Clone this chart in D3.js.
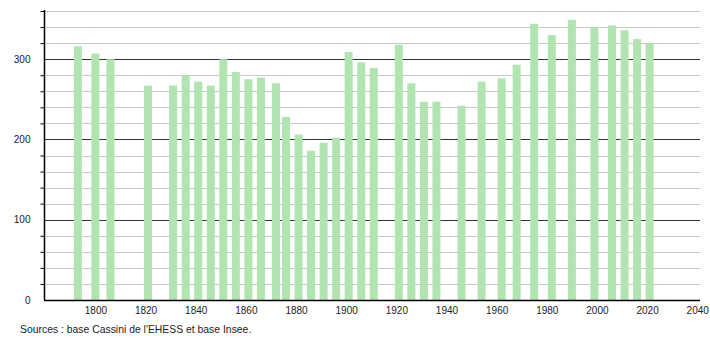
<!DOCTYPE html>
<html>
<head>
<meta charset="utf-8">
<script src="https://cdn.jsdelivr.net/npm/d3@7"></script>
<style>
  body { margin: 0; background: #fff; }
  svg text { font-family: "Liberation Sans", Arial, sans-serif; }
</style>
</head>
<body>
<div id="chart"></div>
<script>
// census years and population
const years = [1793, 1800, 1806, 1821, 1831, 1836, 1841, 1846, 1851, 1856, 1861, 1866,
  1872, 1876, 1881, 1886, 1891, 1896, 1901, 1906, 1911, 1921, 1926, 1931, 1936, 1946,
  1954, 1962, 1968, 1975, 1982, 1990, 1999, 2006, 2011, 2016, 2021];
const population = [316, 307, 300, 267, 267, 280, 272, 267, 300, 284, 275, 277,
  270, 228, 206, 186, 196, 202, 309, 296, 289, 318, 270, 247, 247, 242,
  272, 276, 293, 344, 330, 349, 340, 342, 336, 325, 320];
const xTicks = [1800, 1820, 1840, 1860, 1880, 1900, 1920, 1940, 1960, 1980, 2000, 2020, 2040];
const yTicks = [0, 100, 200, 300];
const source = "Sources : base Cassini de l'EHESS et base Insee.";

const width = 710, height = 340;
const plotLeft = 44, plotRight = 700, plotTop = 11, plotBottom = 300;

const data = years.map((y, i) => ({ year: y, value: population[i] }));

const svg = d3.select("#chart")
    .append("svg")
    .attr("width", width)
    .attr("height", height);

const x = d3.scaleLinear()
    .domain([1779.5, 2041.1])
    .range([plotLeft, plotRight]);

const y = d3.scaleLinear()
    .domain([0, 360])
    .range([plotBottom, plotTop]);

// light grid every 20
svg.append("g")
    .selectAll("line")
    .data(d3.range(20, 361, 20).filter(v => v % 100 !== 0))
    .enter()
    .append("line")
    .attr("x1", plotLeft).attr("x2", plotRight)
    .attr("y1", d => Math.round(y(d)) + 0.5)
    .attr("y2", d => Math.round(y(d)) + 0.5)
    .attr("stroke", "#c8c8c8")
    .attr("stroke-width", 1);

// dark lines at 100, 200, 300
svg.append("g")
    .selectAll("line")
    .data(yTicks.filter(v => v > 0))
    .enter()
    .append("line")
    .attr("x1", plotLeft).attr("x2", plotRight)
    .attr("y1", d => Math.round(y(d)) + 0.5)
    .attr("y2", d => Math.round(y(d)) + 0.5)
    .attr("stroke", "#333")
    .attr("stroke-width", 1);

// bars
const barW = 8;
svg.append("g")
    .selectAll("rect")
    .data(data)
    .enter()
    .append("rect")
    .attr("x", d => x(d.year) - barW / 2)
    .attr("y", d => y(d.value))
    .attr("width", barW)
    .attr("height", d => plotBottom - y(d.value))
    .attr("fill", "#b1e4b1");

// y axis
const yAxis = d3.axisLeft(y)
    .tickValues(d3.range(0, 361, 20))
    .tickSize(4)
    .tickFormat(d => yTicks.includes(d) ? d : "");
const gy = svg.append("g")
    .attr("transform", `translate(${plotLeft + 0.5},0)`)
    .call(yAxis);
gy.select(".domain").attr("d", `M0,${plotTop - 1}V${plotBottom}`).attr("stroke", "#000").attr("stroke-width", 1.5);
gy.selectAll(".tick line").attr("stroke", "#000");
gy.selectAll(".tick").filter(d => yTicks.includes(d)).select("line").attr("x2", 0);
gy.selectAll(".tick text")
    .attr("x", -14)
    .attr("font-size", 10)
    .attr("fill", "#222");

// x axis
const xAxis = d3.axisBottom(x)
    .tickValues(xTicks)
    .tickSize(0)
    .tickFormat(d3.format("d"));
const gx = svg.append("g")
    .attr("transform", `translate(0,${plotBottom + 0.5})`)
    .call(xAxis);
gx.select(".domain").attr("d", `M${plotLeft},0H${plotRight}`).attr("stroke", "#000").attr("stroke-width", 1.5);
gx.selectAll(".tick text")
    .attr("y", 6)
    .attr("font-size", 10)
    .attr("fill", "#222");

svg.append("text")
    .attr("x", 20)
    .attr("y", 333)
    .attr("font-size", 10.4)
    .attr("fill", "#222")
    .text(source);
</script>
</body>
</html>
